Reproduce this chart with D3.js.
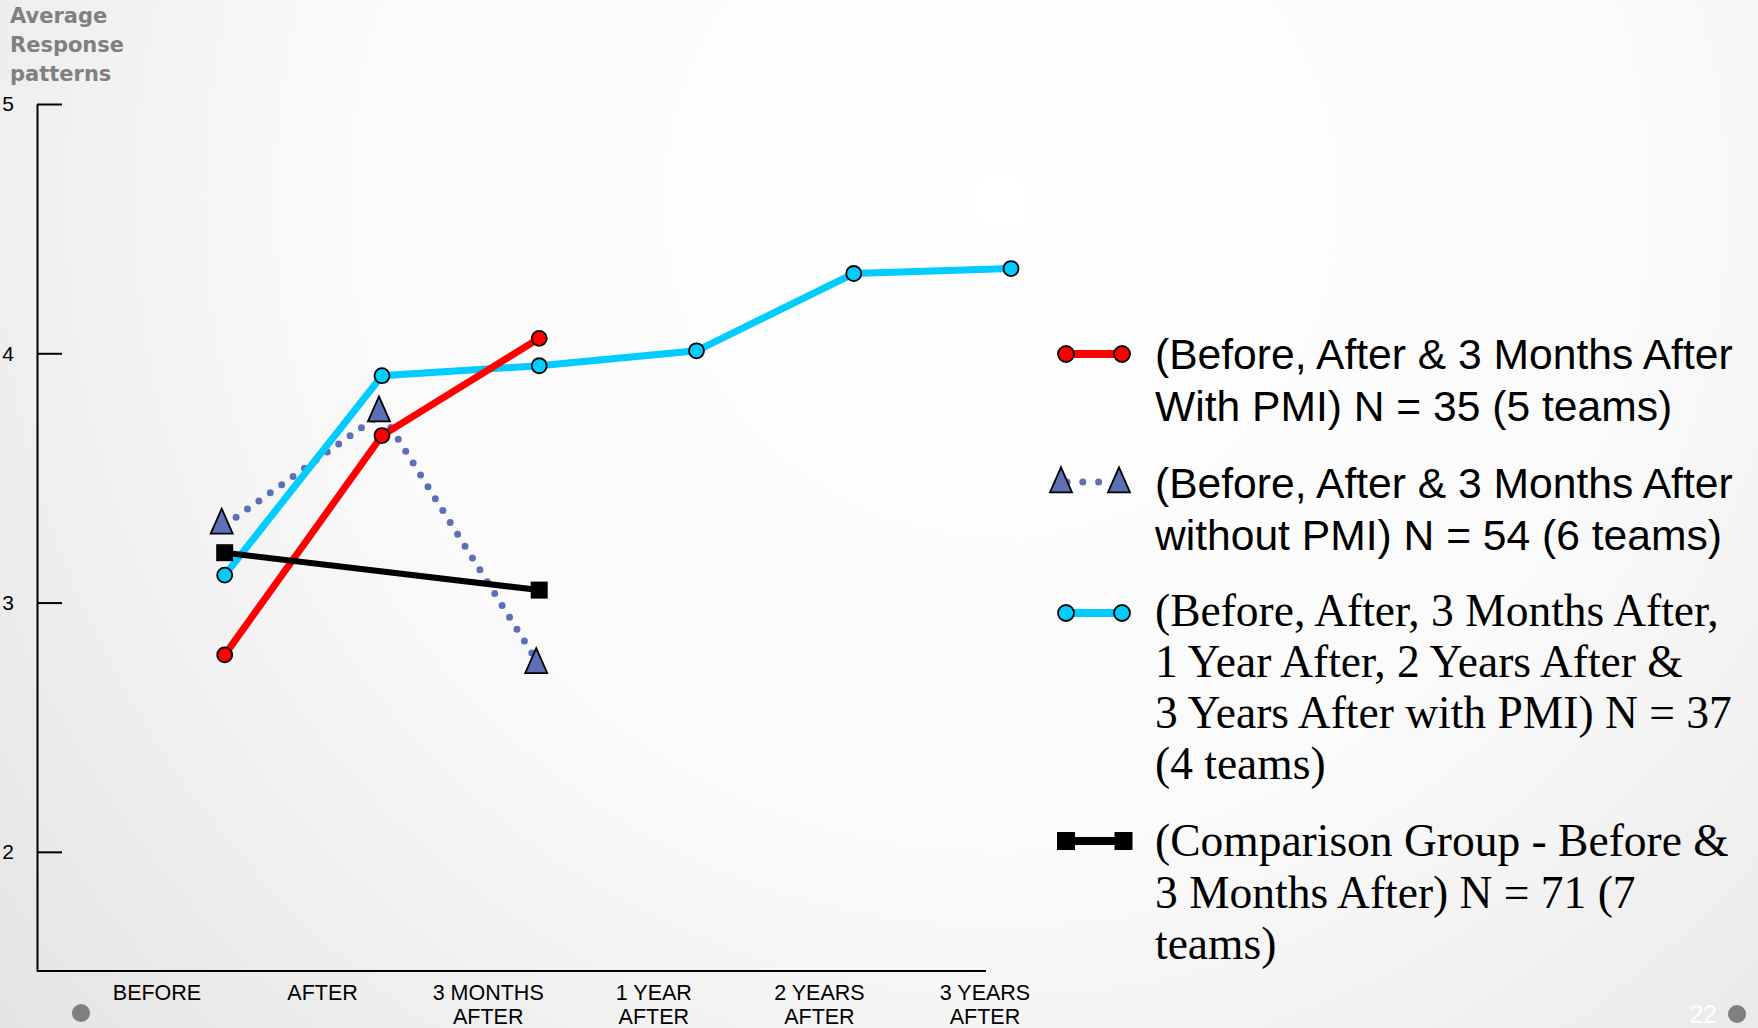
<!DOCTYPE html>
<html>
<head>
<meta charset="utf-8">
<script src="https://cdn.jsdelivr.net/npm/d3@7"></script>
<style>
  body { margin: 0; overflow: hidden; background: #fff; }
  svg { display: block; }
</style>
</head>
<body>
<div id="chart"></div>
<script>
// Chart data
var categories = ["BEFORE", "AFTER", "3 MONTHS AFTER", "1 YEAR AFTER", "2 YEARS AFTER", "3 YEARS AFTER"];
var categoryLines = [["BEFORE"], ["AFTER"], ["3 MONTHS", "AFTER"], ["1 YEAR", "AFTER"], ["2 YEARS", "AFTER"], ["3 YEARS", "AFTER"]];
var yTicks = [2, 3, 4, 5];
var titleLines = ["Average", "Response", "patterns"];

var withPmi = [2.79, 3.67, 4.06];
var withoutPmi = [3.31, 3.76, 2.75];
var longTerm = [3.11, 3.91, 3.95, 4.01, 4.32, 4.34];
var comparison = [3.20, null, 3.05];

var legendText = [
  ["(Before, After & 3 Months After", "With PMI) N = 35 (5 teams)"],
  ["(Before, After & 3 Months After", "without PMI) N = 54 (6 teams)"],
  ["(Before, After, 3 Months After,", "1 Year After, 2 Years After &", "3 Years After with PMI) N = 37", "(4 teams)"],
  ["(Comparison Group - Before &", "3 Months After) N = 71 (7", "teams)"]
];

var pageNumber = "22";

// Size
var svgWidth = 1758;
var svgHeight = 1028;

var svg = d3.select("#chart")
  .append("svg")
  .attr("width", svgWidth)
  .attr("height", svgHeight);

// background gradient
var defs = svg.append("defs");
var grad = defs.append("radialGradient")
  .attr("id", "bg")
  .attr("gradientUnits", "userSpaceOnUse")
  .attr("cx", 1000).attr("cy", 200).attr("r", 1650);
grad.append("stop").attr("offset", "0").attr("stop-color", "#ffffff");
grad.append("stop").attr("offset", "0.4").attr("stop-color", "#fafafa");
grad.append("stop").attr("offset", "1").attr("stop-color", "#d8d8d8");

svg.append("rect")
  .attr("width", svgWidth)
  .attr("height", svgHeight)
  .attr("fill", "url(#bg)");

// scales
var yScale = d3.scaleLinear()
  .domain([1.522, 5])
  .range([971, 104]);

var xData = d3.scaleLinear()
  .domain([0, categories.length - 1])
  .range([224.7, 1011]);

var xLabel = d3.scaleLinear()
  .domain([0, categories.length - 1])
  .range([157, 985]);

// y axis
var leftAxis = d3.axisLeft(yScale)
  .tickValues(yTicks)
  .tickFormat(d3.format("d"))
  .tickSizeInner(-25)
  .tickSizeOuter(0)
  .tickPadding(23);

var yAxis = svg.append("g")
  .attr("transform", "translate(37,0)")
  .call(leftAxis);

yAxis.selectAll("path, line")
  .attr("stroke", "#000")
  .attr("stroke-width", 2);
yAxis.selectAll("text")
  .attr("fill", "#000")
  .style("font-family", "'Liberation Sans', Arial, sans-serif")
  .style("font-size", "21px");

// x axis line
svg.append("line")
  .attr("x1", 37)
  .attr("x2", 986)
  .attr("y1", yScale(1.522))
  .attr("y2", yScale(1.522))
  .attr("stroke", "#000")
  .attr("stroke-width", 2);

// x labels
var xLabels = svg.append("g")
  .selectAll("text")
  .data(categoryLines)
  .enter()
  .append("text")
  .attr("text-anchor", "middle")
  .style("font-family", "'Liberation Sans', Arial, sans-serif")
  .style("font-size", "21.5px")
  .attr("fill", "#000");

xLabels.selectAll("tspan")
  .data(function(d, i) { return d.map(function(t) { return { t: t, i: i }; }); })
  .enter()
  .append("tspan")
  .attr("x", function(d) { return xLabel(d.i); })
  .attr("y", function(d, j) { return 1000 + j * 23.5; })
  .text(function(d) { return d.t; });

// title
svg.append("text")
  .attr("fill", "#808080")
  .style("font-family", "'DejaVu Sans', sans-serif")
  .style("font-weight", "bold")
  .style("font-size", "21px")
  .selectAll("tspan")
  .data(titleLines)
  .enter()
  .append("tspan")
  .attr("x", 10)
  .attr("y", function(d, i) { return 23 + i * 29; })
  .text(function(d) { return d; });

// helpers
function points(values) {
  return values
    .map(function(v, i) { return { i: i, v: v }; })
    .filter(function(d) { return d.v != null; });
}

var line = d3.line()
  .x(function(d) { return xData(d.i); })
  .y(function(d) { return yScale(d.v); });

// isoceles triangle, centroid at origin
function triangle(w, h) {
  return "M0," + (-2 * h / 3) + "L" + (w / 2) + "," + (h / 3) + "L" + (-w / 2) + "," + (h / 3) + "Z";
}

var blue = "#5d70b5";
var cyan = "#00ccff";
var red = "#ff0000";

var chart = svg.append("g");

// without PMI - dotted
chart.append("path")
  .datum(points(withoutPmi))
  .attr("d", line)
  .attr("fill", "none")
  .attr("stroke", blue)
  .attr("stroke-width", 7)
  .attr("stroke-linecap", "round")
  .attr("stroke-dasharray", "0 14");

chart.selectAll(".tri")
  .data(points(withoutPmi))
  .enter()
  .append("path")
  .attr("class", "tri")
  .attr("transform", function(d) { return "translate(" + (xData(d.i) - 3) + "," + yScale(d.v) + ")"; })
  .attr("d", triangle(22, 25))
  .attr("fill", blue)
  .attr("stroke", "#000")
  .attr("stroke-width", 1.8)
  .attr("stroke-linejoin", "miter");

// long term - cyan
chart.append("path")
  .datum(points(longTerm))
  .attr("d", line)
  .attr("fill", "none")
  .attr("stroke", cyan)
  .attr("stroke-width", 7);

chart.selectAll(".cyanDot")
  .data(points(longTerm))
  .enter()
  .append("circle")
  .attr("class", "cyanDot")
  .attr("cx", function(d) { return xData(d.i); })
  .attr("cy", function(d) { return yScale(d.v); })
  .attr("r", 7.5)
  .attr("fill", cyan)
  .attr("stroke", "#000")
  .attr("stroke-width", 1.8);

// with PMI - red
chart.append("path")
  .datum(points(withPmi))
  .attr("d", line)
  .attr("fill", "none")
  .attr("stroke", red)
  .attr("stroke-width", 7);

chart.selectAll(".redDot")
  .data(points(withPmi))
  .enter()
  .append("circle")
  .attr("class", "redDot")
  .attr("cx", function(d) { return xData(d.i); })
  .attr("cy", function(d) { return yScale(d.v); })
  .attr("r", 7.5)
  .attr("fill", red)
  .attr("stroke", "#000")
  .attr("stroke-width", 1.8);

// comparison - black
chart.append("path")
  .datum(points(comparison))
  .attr("d", line)
  .attr("fill", "none")
  .attr("stroke", "#000")
  .attr("stroke-width", 6);

chart.selectAll(".sq")
  .data(points(comparison))
  .enter()
  .append("path")
  .attr("class", "sq")
  .attr("transform", function(d) { return "translate(" + xData(d.i) + "," + yScale(d.v) + ")"; })
  .attr("d", d3.symbol().type(d3.symbolSquare).size(17 * 17))
  .attr("fill", "#000");

// legend
var legendLayout = [
  { sy: 354, base: 369, step: 52, font: "'Liberation Sans', Arial, sans-serif", size: 42.6 },
  { sy: 482, base: 498, step: 52, font: "'Liberation Sans', Arial, sans-serif", size: 42.6 },
  { sy: 613, base: 626, step: 51, font: "'Liberation Serif', 'Times New Roman', serif", size: 45.5 },
  { sy: 841, base: 856, step: 51.5, font: "'Liberation Serif', 'Times New Roman', serif", size: 45.5 }
];

var legend = svg.append("g");
var lx1 = 1066, lx2 = 1122;

// red symbol
legend.append("line")
  .attr("x1", lx1).attr("x2", lx2)
  .attr("y1", legendLayout[0].sy).attr("y2", legendLayout[0].sy)
  .attr("stroke", red).attr("stroke-width", 8);
legend.selectAll(".lr")
  .data([lx1, lx2])
  .enter()
  .append("circle")
  .attr("cx", function(d) { return d; })
  .attr("cy", legendLayout[0].sy)
  .attr("r", 8)
  .attr("fill", red)
  .attr("stroke", "#000")
  .attr("stroke-width", 1.8);

// triangle symbol
legend.append("line")
  .attr("x1", 1067).attr("x2", 1112)
  .attr("y1", legendLayout[1].sy).attr("y2", legendLayout[1].sy)
  .attr("stroke", blue).attr("stroke-width", 7)
  .attr("stroke-linecap", "round")
  .attr("stroke-dasharray", "0 15.8");
legend.selectAll(".lt")
  .data([1061, 1119])
  .enter()
  .append("path")
  .attr("transform", function(d) { return "translate(" + d + "," + (legendLayout[1].sy + 2) + ")"; })
  .attr("d", triangle(22, 25))
  .attr("fill", blue)
  .attr("stroke", "#000")
  .attr("stroke-width", 1.8);

// cyan symbol
legend.append("line")
  .attr("x1", lx1).attr("x2", lx2)
  .attr("y1", legendLayout[2].sy).attr("y2", legendLayout[2].sy)
  .attr("stroke", cyan).attr("stroke-width", 8);
legend.selectAll(".lc")
  .data([lx1, lx2])
  .enter()
  .append("circle")
  .attr("cx", function(d) { return d; })
  .attr("cy", legendLayout[2].sy)
  .attr("r", 8)
  .attr("fill", cyan)
  .attr("stroke", "#000")
  .attr("stroke-width", 1.8);

// black symbol
legend.append("line")
  .attr("x1", lx1).attr("x2", lx2)
  .attr("y1", legendLayout[3].sy).attr("y2", legendLayout[3].sy)
  .attr("stroke", "#000").attr("stroke-width", 8);
legend.selectAll(".lb")
  .data([1066, 1123.5])
  .enter()
  .append("path")
  .attr("transform", function(d) { return "translate(" + d + "," + legendLayout[3].sy + ")"; })
  .attr("d", d3.symbol().type(d3.symbolSquare).size(18 * 18))
  .attr("fill", "#000");

// legend text
legendText.forEach(function(lines, k) {
  var lay = legendLayout[k];
  legend.append("text")
    .attr("fill", "#000")
    .style("font-family", lay.font)
    .style("font-size", lay.size + "px")
    .selectAll("tspan")
    .data(lines)
    .enter()
    .append("tspan")
    .attr("x", 1155)
    .attr("y", function(d, i) { return lay.base + i * lay.step; })
    .text(function(d) { return d; });
});

// slide decorations
svg.append("circle")
  .attr("cx", 81).attr("cy", 1013).attr("r", 9)
  .attr("fill", "#808080");
svg.append("circle")
  .attr("cx", 1737).attr("cy", 1014).attr("r", 9)
  .attr("fill", "#808080");
svg.append("text")
  .attr("x", 1717)
  .attr("y", 1023)
  .attr("text-anchor", "end")
  .attr("fill", "#ffffff")
  .style("font-family", "'Liberation Sans', Arial, sans-serif")
  .style("font-size", "25px")
  .text(pageNumber);
</script>
</body>
</html>
